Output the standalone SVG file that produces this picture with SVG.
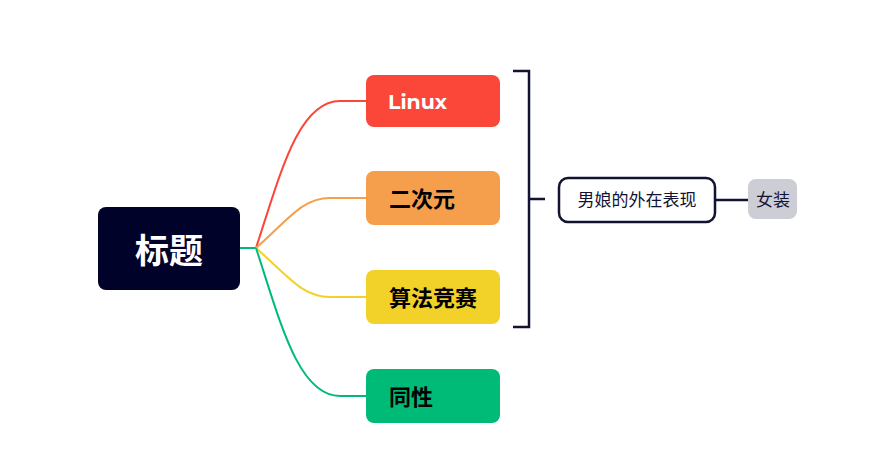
<svg xmlns="http://www.w3.org/2000/svg" width="888" height="471" viewBox="0 0 888 471">
<style>
.cn{font-family:"Noto Sans CJK SC","Liberation Sans",sans-serif}
.b{font-weight:bold}
.br{fill:none;stroke-width:2}
.dk{stroke:#121232;stroke-width:2.5;fill:none}
.lb{font-size:22px;fill:#000000}
.sm{font-size:17px;fill:#121232}
</style>
<rect width="888" height="471" fill="#ffffff"/>
<g id="connectors">
<path class="br" stroke="#00ba78" d="M240 248 H256"/>
<path class="br" stroke="#fb463a" d="M256 248 C280 175, 298 101, 340 101 H366"/>
<path class="br" stroke="#f59e4c" d="M256 248 C288 220, 302 198, 330 198 H366"/>
<path class="br" stroke="#f2d129" d="M256 248 C288 276, 302 297, 330 297 H366"/>
<path class="br" stroke="#00ba78" d="M256 248 C280 321, 298 396, 340 396 H366"/>
<path class="dk" d="M513 71 H529 V327 H513 M529 199 H545"/>
<path class="dk" d="M715 200 H748"/>
</g>
<g id="root">
<rect x="98" y="207" width="142" height="83" rx="8" fill="#000229"/>
<text x="169" y="263" text-anchor="middle" class="cn b" font-size="34" fill="#ffffff">标题</text>
</g>
<g id="linux">
<rect x="366" y="75" width="134" height="52" rx="8" fill="#fb463a"/>
<text x="388" y="109" class="b" font-family="Montserrat,'Noto Sans','Liberation Sans',sans-serif" font-size="20.5" fill="#ffffff">Linux</text>
</g>
<g id="erciyuan">
<rect x="366" y="171" width="134" height="54" rx="8" fill="#f59e4c"/>
<text x="389" y="207" class="cn b lb">二次元</text>
</g>
<g id="suanfa">
<rect x="366" y="270" width="134" height="54" rx="8" fill="#f2d129"/>
<text x="389" y="306" class="cn b lb">算法竞赛</text>
</g>
<g id="tongxing">
<rect x="366" y="369" width="134" height="54" rx="8" fill="#00ba78"/>
<text x="389" y="405" class="cn b lb">同性</text>
</g>
<g id="summary">
<rect x="559" y="178" width="156" height="44" rx="9" fill="#ffffff" stroke="#121232" stroke-width="2.5"/>
<text x="637" y="206" text-anchor="middle" class="cn sm">男娘的外在表现</text>
</g>
<g id="nvzhuang">
<rect x="748" y="179" width="49" height="40" rx="8" fill="#cdcdd6"/>
<text x="773" y="206" text-anchor="middle" class="cn sm">女装</text>
</g>
</svg>
